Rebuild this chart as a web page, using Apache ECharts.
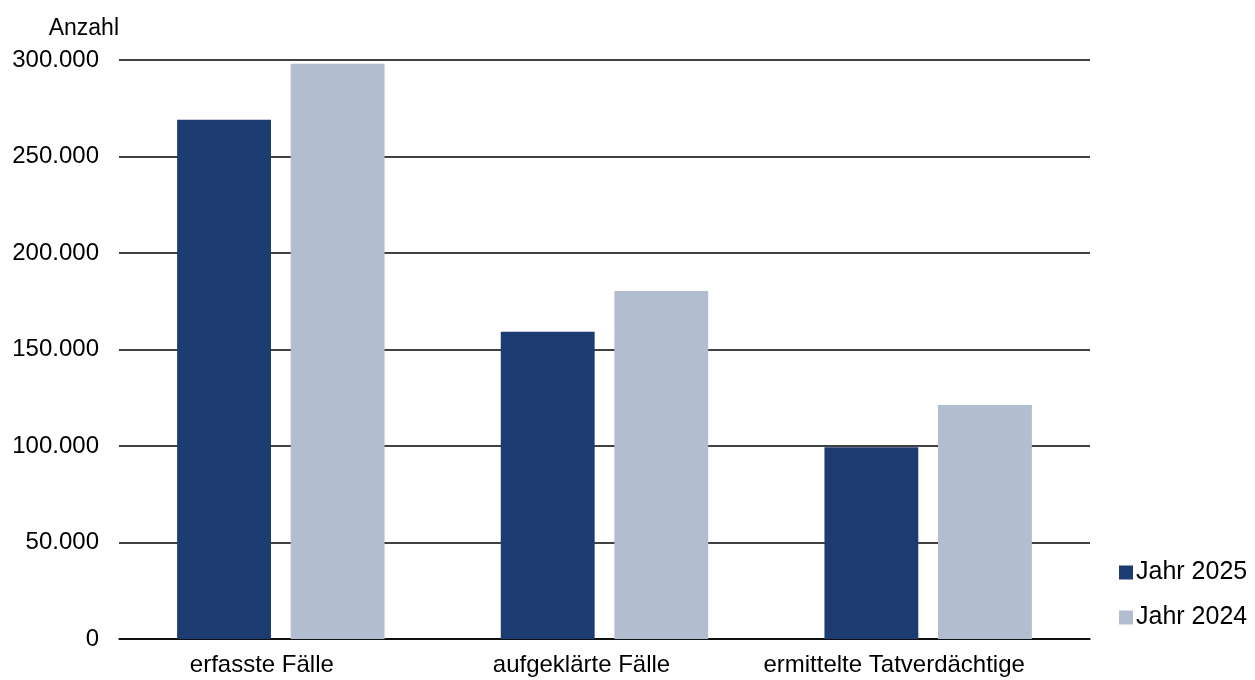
<!DOCTYPE html>
<html>
<head>
<meta charset="utf-8">
<script src="https://cdn.jsdelivr.net/npm/echarts@6/dist/echarts.min.js"></script>
<style>
  html, body { margin: 0; padding: 0; background: #ffffff; }
  #chart { width: 1255px; height: 680px; }
</style>
</head>
<body>
<div id="chart"></div>
<script>
const categories = ['erfasste Fälle', 'aufgeklärte Fälle', 'ermittelte Tatverdächtige'];
const jahr2025 = [269000, 159200, 99400];
const jahr2024 = [298000, 180300, 121300];
const seriesNames = ['Jahr 2025', 'Jahr 2024'];

// label nudge to the left (px) for each category caption
const labelShift = [19, 23, 34];

const fontFamily = '"Liberation Sans", Arial, sans-serif';

// German thousands separator: 250000 -> 250.000
function formatDe(v) {
  return String(v).replace(/\B(?=(\d{3})+(?!\d))/g, '.');
}

const categoryData = categories.map((name, i) => ({
  value: name,
  textStyle: { padding: [0, labelShift[i] * 2, 0, 0] }
}));

const chart = echarts.init(document.getElementById('chart'), null, { renderer: 'canvas' });
chart.setOption({
  backgroundColor: '#ffffff',
  animation: false,
  textStyle: { fontFamily: fontFamily },
  grid: { left: 119, right: 165, top: 60, bottom: 41, containLabel: false },
  legend: {
    orient: 'vertical',
    left: 1114,
    top: 555,
    itemWidth: 14,
    itemHeight: 14,
    itemGap: 20,
    icon: 'rect',
    textStyle: { fontSize: 25, color: '#000000', fontFamily: fontFamily, padding: [0, 0, 0, -2] },
    data: seriesNames
  },
  xAxis: {
    type: 'category',
    data: categoryData,
    axisLine: { show: true, lineStyle: { color: '#000000', width: 1.5 } },
    axisTick: { show: false },
    axisLabel: { fontSize: 24, color: '#000000', margin: 14, interval: 0, hideOverlap: false }
  },
  yAxis: {
    type: 'value',
    min: 0,
    max: 300000,
    interval: 50000,
    name: 'Anzahl',
    nameLocation: 'end',
    nameGap: 20,
    nameTextStyle: { fontSize: 23, color: '#000000', align: 'right' },
    axisLine: { show: false },
    axisTick: { show: false },
    axisLabel: { fontSize: 24, color: '#000000', margin: 20, formatter: formatDe },
    splitLine: { show: true, lineStyle: { color: '#000000', width: 1.5 } }
  },
  series: [
    {
      name: seriesNames[0],
      type: 'bar',
      data: jahr2025,
      barWidth: '29%',
      barGap: '21%',
      itemStyle: { color: '#1b3b71' }
    },
    {
      name: seriesNames[1],
      type: 'bar',
      data: jahr2024,
      barWidth: '29%',
      itemStyle: { color: '#b3bdd0' }
    }
  ]
});
</script>
</body>
</html>
